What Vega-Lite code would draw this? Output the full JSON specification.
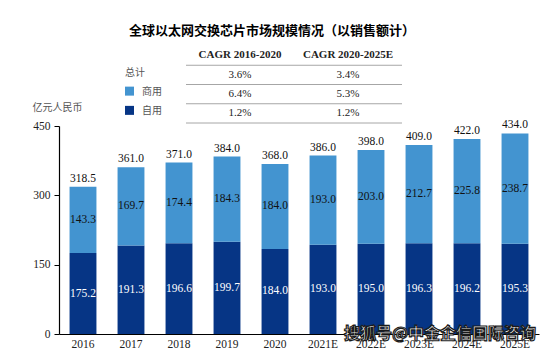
{
  "$schema": "https://vega.github.io/schema/vega-lite/v6.json",
  "background": "white",
  "padding": {"left": 32, "top": 25, "right": 6, "bottom": 0},
  "bounds": "flush",
  "spacing": 3,
  "title": {"text": "全球以太网交换芯片市场规模情况（以销售额计）", "font": "Noto Sans CJK SC", "fontSize": 13, "fontWeight": "bold", "color": "#000000", "anchor": "start", "frame": "group", "dx": 70, "offset": 8},
  "datasets": {
    "cagr": [
      {"类别": "总计", "期间": "CAGR 2016-2020", "CAGR": "3.6%"},
      {"类别": "总计", "期间": "CAGR 2020-2025E", "CAGR": "3.4%"},
      {"类别": "商用", "期间": "CAGR 2016-2020", "CAGR": "6.4%"},
      {"类别": "商用", "期间": "CAGR 2020-2025E", "CAGR": "5.3%"},
      {"类别": "自用", "期间": "CAGR 2016-2020", "CAGR": "1.2%"},
      {"类别": "自用", "期间": "CAGR 2020-2025E", "CAGR": "1.2%"}
    ],
    "bars": [
      {"year": "2016", "type": "自用", "rank": 0, "value": 175.2},
      {"year": "2016", "type": "商用", "rank": 1, "value": 143.3},
      {"year": "2017", "type": "自用", "rank": 0, "value": 191.3},
      {"year": "2017", "type": "商用", "rank": 1, "value": 169.7},
      {"year": "2018", "type": "自用", "rank": 0, "value": 196.6},
      {"year": "2018", "type": "商用", "rank": 1, "value": 174.4},
      {"year": "2019", "type": "自用", "rank": 0, "value": 199.7},
      {"year": "2019", "type": "商用", "rank": 1, "value": 184.3},
      {"year": "2020", "type": "自用", "rank": 0, "value": 184.0},
      {"year": "2020", "type": "商用", "rank": 1, "value": 184.0},
      {"year": "2021E", "type": "自用", "rank": 0, "value": 193.0},
      {"year": "2021E", "type": "商用", "rank": 1, "value": 193.0},
      {"year": "2022E", "type": "自用", "rank": 0, "value": 195.0},
      {"year": "2022E", "type": "商用", "rank": 1, "value": 203.0},
      {"year": "2023E", "type": "自用", "rank": 0, "value": 196.3},
      {"year": "2023E", "type": "商用", "rank": 1, "value": 212.7},
      {"year": "2024E", "type": "自用", "rank": 0, "value": 196.2},
      {"year": "2024E", "type": "商用", "rank": 1, "value": 225.8},
      {"year": "2025E", "type": "自用", "rank": 0, "value": 195.3},
      {"year": "2025E", "type": "商用", "rank": 1, "value": 238.7}
    ],
    "totals": [
      {"year": "2016", "total": 318.5},
      {"year": "2017", "total": 361.0},
      {"year": "2018", "total": 371.0},
      {"year": "2019", "total": 384.0},
      {"year": "2020", "total": 368.0},
      {"year": "2021E", "total": 386.0},
      {"year": "2022E", "total": 398.0},
      {"year": "2023E", "total": 409.0},
      {"year": "2024E", "total": 422.0},
      {"year": "2025E", "total": 434.0}
    ]
  },
  "vconcat": [
    {
      "width": 362,
      "height": 77,
      "data": {"name": "cagr"},
      "layer": [
        {
          "transform": [{"filter": "datum['类别'] === '总计'"}],
          "mark": {"type": "text", "font": "Liberation Serif", "fontSize": 11, "fontWeight": "bold", "color": "#222222", "baseline": "middle", "dy": -1},
          "encoding": {
            "x": {"field": "期间", "type": "nominal", "scale": {"type": "band", "domain": ["label", "CAGR 2016-2020", "CAGR 2020-2025E"], "paddingInner": 0, "paddingOuter": 0.176}, "axis": null},
            "y": {"datum": "header", "type": "nominal", "scale": {"type": "band", "domain": ["header", "总计", "商用", "自用"], "paddingInner": 0, "paddingOuter": 0}, "axis": null},
            "text": {"field": "期间"}
          }
        },
        {
          "mark": {"type": "text", "font": "Liberation Serif", "fontSize": 11, "color": "#222222", "baseline": "middle"},
          "encoding": {
            "x": {"field": "期间", "type": "nominal"},
            "y": {"field": "类别", "type": "nominal"},
            "text": {"field": "CAGR"}
          }
        },
        {
          "mark": {"type": "rule", "color": "#a6a6a6", "strokeWidth": 1},
          "encoding": {
            "x": {"field": "期间", "type": "nominal", "bandPosition": 0},
            "x2": {"field": "期间", "bandPosition": 1},
            "y": {"field": "类别", "type": "nominal", "bandPosition": 1}
          }
        },
        {
          "transform": [{"filter": "datum['类别'] === '总计'"}],
          "mark": {"type": "rule", "color": "#a6a6a6", "strokeWidth": 1},
          "encoding": {
            "x": {"field": "期间", "type": "nominal", "bandPosition": 0},
            "x2": {"field": "期间", "bandPosition": 1},
            "y": {"field": "类别", "type": "nominal", "bandPosition": 0}
          }
        },
        {
          "transform": [{"filter": "datum['类别'] === '总计' && datum['期间'] === 'CAGR 2016-2020'"}],
          "mark": {"type": "text", "font": "Noto Sans CJK SC", "fontSize": 10, "color": "#555555", "align": "left", "baseline": "middle", "dx": -7, "dy": -2},
          "encoding": {
            "x": {"datum": "label", "type": "nominal"},
            "y": {"field": "类别", "type": "nominal"},
            "text": {"field": "类别"}
          }
        },
        {
          "transform": [{"filter": "datum['类别'] !== '总计' && datum['期间'] === 'CAGR 2016-2020'"}],
          "mark": {"type": "text", "font": "Noto Sans CJK SC", "fontSize": 10, "color": "#555555", "align": "left", "baseline": "middle", "dx": 10, "dy": -2},
          "encoding": {
            "x": {"datum": "label", "type": "nominal"},
            "y": {"field": "类别", "type": "nominal"},
            "text": {"field": "类别"}
          }
        },
        {
          "transform": [{"filter": "datum['类别'] !== '总计' && datum['期间'] === 'CAGR 2016-2020'"}],
          "mark": {"type": "square", "filled": true, "size": 81, "opacity": 1, "xOffset": -2.5, "yOffset": -3},
          "encoding": {
            "x": {"datum": "label", "type": "nominal"},
            "y": {"field": "类别", "type": "nominal"},
            "color": {"field": "类别", "type": "nominal", "scale": {"domain": ["商用", "自用"], "range": ["#4394D0", "#063585"]}, "legend": null}
          }
        }
      ]
    },
    {
      "width": 480,
      "height": 208,
      "layer": [
        {
          "data": {"name": "bars"},
          "mark": {"type": "bar"},
          "encoding": {
            "x": {"field": "year", "type": "nominal", "scale": {"type": "band", "paddingInner": 0.44, "paddingOuter": 0.22},
              "axis": {"title": null, "labelAngle": 0, "ticks": false, "domainColor": "#000000", "domainWidth": 1.2, "labelFont": "Liberation Serif", "labelFontSize": 11.5, "labelColor": "#222222", "labelPadding": 4}},
            "y": {"field": "value", "type": "quantitative", "stack": "zero", "scale": {"domain": [0, 450]},
              "axis": {"values": [0, 150, 300, 450], "grid": false, "domainColor": "#000000", "domainWidth": 1.2, "tickColor": "#000000", "tickSize": 5, "labelFont": "Liberation Serif", "labelFontSize": 11.5, "labelColor": "#222222", "labelPadding": 4,
                "title": "亿元人民币", "titleAngle": 0, "titleAlign": "center", "titleBaseline": "middle", "titleX": -2, "titleY": -19, "titleFont": "Noto Sans CJK SC", "titleFontSize": 10, "titleFontWeight": "normal", "titleColor": "#555555"}},
            "color": {"field": "type", "type": "nominal", "scale": {"domain": ["商用", "自用"], "range": ["#4394D0", "#063585"]}, "legend": null},
            "order": {"field": "rank", "type": "quantitative"}
          }
        },
        {
          "data": {"name": "bars"},
          "mark": {"type": "text", "font": "Liberation Serif", "fontSize": 11.5, "baseline": "middle"},
          "encoding": {
            "x": {"field": "year", "type": "nominal"},
            "y": {"field": "value", "type": "quantitative", "stack": "zero", "bandPosition": 0.5},
            "detail": {"field": "type"},
            "order": {"field": "rank", "type": "quantitative"},
            "text": {"field": "value", "format": ".1f"},
            "color": {"condition": {"test": "datum.type === '自用'", "value": "#ffffff"}, "value": "#111111"}
          }
        },
        {
          "data": {"name": "totals"},
          "mark": {"type": "text", "font": "Liberation Serif", "fontSize": 11.5, "baseline": "bottom", "dy": -3, "color": "#111111"},
          "encoding": {
            "x": {"field": "year", "type": "nominal"},
            "y": {"field": "total", "type": "quantitative"},
            "text": {"field": "total", "format": ".1f"}
          }
        },
        {
          "data": {"values": [{"wm": "搜狐号@中金企信国际咨询"}]},
          "mark": {"type": "text", "font": "Noto Sans CJK SC", "fontSize": 16, "fontWeight": "bold", "fill": "#ffffff", "stroke": "#1a1a1a", "strokeWidth": 1.2, "baseline": "middle", "dx": 21},
          "encoding": {
            "x": {"datum": "2023E", "type": "nominal"},
            "y": {"datum": 0, "type": "quantitative"},
            "text": {"field": "wm"}
          }
        }
      ]
    }
  ],
  "config": {
    "view": {"stroke": null}
  }
}
